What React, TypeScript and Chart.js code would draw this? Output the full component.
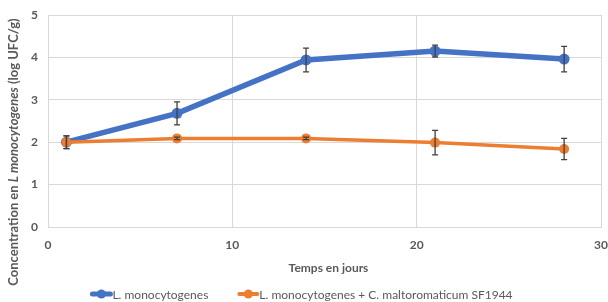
import React, { useEffect, useRef } from "react";
import { Chart, registerables } from "chart.js";

Chart.register(...registerables);

const days = [1, 7, 14, 21, 28];
const lmonoValues = [2.0, 2.68, 3.94, 4.15, 3.96];
const lmonoErrors = [0.15, 0.27, 0.28, 0.14, 0.3];
const mixValues = [2.0, 2.09, 2.09, 1.99, 1.84];
const mixErrors = [0.15, 0.03, 0.03, 0.29, 0.25];
const xTicks = [0, 10, 20, 30];
const yTicks = [0, 1, 2, 3, 4, 5];
const seriesNames = ["L. monocytogenes", "L. monocytogenes + C. maltoromaticum SF1944"];
const seriesColors = ["#4472C4", "#ED7D31"];
const xTitle = "Temps en jours";
const yTitleParts = [
  { text: "Concentration en ", italic: false },
  { text: "L monocytogenes", italic: true },
  { text: " (log UFC/g)", italic: false },
];

const FONT = "Lato, 'Open Sans', sans-serif";
const TEXT = "#595959";

const errorBars = {
  id: "errorBars",
  afterDatasetsDraw(chart: any) {
    const ctx = chart.ctx;
    const ys = chart.scales.y;
    chart.data.datasets.forEach((ds: any, i: number) => {
      const meta = chart.getDatasetMeta(i);
      const errs = ds.errors as number[];
      meta.data.forEach((pt: any, j: number) => {
        const v = ds.data[j].y;
        const top = ys.getPixelForValue(v + errs[j]);
        const bot = ys.getPixelForValue(v - errs[j]);
        const x = pt.x;
        ctx.save();
        ctx.strokeStyle = "#404040";
        ctx.lineWidth = 1.3;
        ctx.beginPath();
        ctx.moveTo(x, top);
        ctx.lineTo(x, bot);
        ctx.moveTo(x - 3, top);
        ctx.lineTo(x + 3, top);
        ctx.moveTo(x - 3, bot);
        ctx.lineTo(x + 3, bot);
        ctx.stroke();
        ctx.restore();
      });
    });
  },
};

const texts = {
  id: "texts",
  afterDraw(chart: any) {
    const ctx = chart.ctx;
    const area = chart.chartArea;
    ctx.save();
    ctx.fillStyle = TEXT;
    // x title
    ctx.font = `bold 12px ${FONT}`;
    ctx.textAlign = "center";
    ctx.textBaseline = "middle";
    ctx.fillText(xTitle, (area.left + area.right) / 2 + 4, 268);
    // y title (rotated, mixed italics)
    const fonts = yTitleParts.map((p) => `${p.italic ? "italic " : ""}bold 13px ${FONT}`);
    let total = 0;
    const widths = yTitleParts.map((p, i) => {
      ctx.font = fonts[i];
      const w = ctx.measureText(p.text).width;
      total += w;
      return w;
    });
    ctx.translate(14, 152);
    ctx.rotate(-Math.PI / 2);
    ctx.textAlign = "left";
    let pos = -total / 2;
    yTitleParts.forEach((p, i) => {
      ctx.font = fonts[i];
      ctx.fillText(p.text, pos, 0);
      pos += widths[i];
    });
    ctx.restore();

    // legend
    ctx.save();
    ctx.font = `12px ${FONT}`;
    ctx.textBaseline = "middle";
    ctx.textAlign = "left";
    const ly = 294;
    const gap = 28;
    const markerW = 22;
    const itemW = seriesNames.map((n) => markerW + 1 + ctx.measureText(n).width);
    const totalW = itemW.reduce((a, b) => a + b, 0) + gap;
    let x = (chart.width - totalW) / 2 - 2;
    seriesNames.forEach((n, i) => {
      ctx.strokeStyle = seriesColors[i];
      ctx.lineWidth = i === 0 ? 5 : 4;
      ctx.lineCap = "round";
      ctx.beginPath();
      ctx.moveTo(x + 2, ly);
      ctx.lineTo(x + markerW - 2, ly);
      ctx.stroke();
      ctx.fillStyle = seriesColors[i];
      ctx.beginPath();
      ctx.arc(x + markerW / 2, ly, 4.5, 0, Math.PI * 2);
      ctx.fill();
      ctx.fillStyle = TEXT;
      ctx.fillText(n, x + markerW, ly + 1);
      x += itemW[i] + gap;
    });
    ctx.restore();
  },
};

export default function App() {
  const ref = useRef<HTMLCanvasElement>(null);
  useEffect(() => {
    document.body.style.margin = "0";
    const chart = new Chart(ref.current!, {
      type: "scatter",
      data: {
        datasets: [
          {
            label: seriesNames[0],
            data: days.map((d, i) => ({ x: d, y: lmonoValues[i] })),
            errors: lmonoErrors,
            showLine: true,
            borderColor: seriesColors[0],
            backgroundColor: seriesColors[0],
            borderWidth: 5.5,
            pointRadius: 5.5,
            pointBorderWidth: 0,
            pointHoverRadius: 5.5,
            order: 1,
          } as any,
          {
            label: seriesNames[1],
            data: days.map((d, i) => ({ x: d, y: mixValues[i] })),
            errors: mixErrors,
            showLine: true,
            borderColor: seriesColors[1],
            backgroundColor: seriesColors[1],
            borderWidth: 3.5,
            pointRadius: 5,
            pointBorderWidth: 0,
            pointHoverRadius: 5,
            order: 0,
          } as any,
        ],
      },
      options: {
        animation: false,
        responsive: false,
        layout: { padding: { top: 15, right: 7, left: 0, bottom: 0 } },
        plugins: { legend: { display: false }, tooltip: { enabled: false }, title: { display: false } },
        scales: {
          x: {
            type: "linear",
            min: 0,
            max: 30,
            afterFit: (s: any) => { s.height = 75; s.paddingLeft = 0; s.paddingRight = 0; },
            afterBuildTicks: (s: any) => { s.ticks = xTicks.map((v) => ({ value: v })); },
            grid: { color: "#D9D9D9", drawTicks: false, lineWidth: 1 },
            border: { color: "#D9D9D9" },
            ticks: { color: TEXT, font: { family: FONT, size: 12, weight: "bold" }, padding: 11, maxRotation: 0 },
          },
          y: {
            type: "linear",
            min: 0,
            max: 5,
            afterFit: (s: any) => { s.width = 48; s.paddingTop = 0; s.paddingBottom = 0; },
            afterBuildTicks: (s: any) => { s.ticks = yTicks.map((v) => ({ value: v })); },
            grid: { color: "#D9D9D9", drawTicks: false, lineWidth: 1 },
            border: { color: "#D9D9D9" },
            ticks: { color: TEXT, font: { family: FONT, size: 12, weight: "bold" }, padding: 10 },
          },
        },
      },
      plugins: [errorBars, texts],
    });
    return () => chart.destroy();
  }, []);
  return <canvas ref={ref} width={608} height={302} style={{ display: "block" }} />;
}
